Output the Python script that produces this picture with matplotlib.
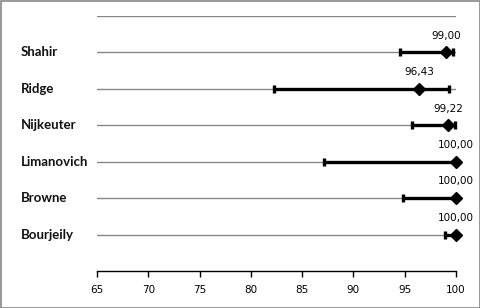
"""Range chart: score (diamond) with min-max span per person."""
import matplotlib
matplotlib.use("Agg")
import matplotlib.pyplot as plt
import matplotlib.transforms as mtransforms
from matplotlib.patches import Rectangle

names = ["Shahir", "Ridge", "Nijkeuter", "Limanovich", "Browne", "Bourjeily"]
scores = [99.00, 96.43, 99.22, 100.00, 100.00, 100.00]
low = [94.5, 82.3, 95.7, 87.1, 94.8, 98.9]
high = [99.75, 99.35, 99.9, 100.0, 100.0, 100.0]
xticks = [65, 70, 75, 80, 85, 90, 95, 100]

W, H, DPI = 481, 308, 100
fig = plt.figure(figsize=(W / DPI, H / DPI), dpi=DPI)
ax = fig.add_axes([97 / W, (H - 271) / H, (456 - 97) / W, (271 - 16) / H])

ypos = list(range(len(names), 0, -1))

for y, s, lo, hi in zip(ypos, scores, low, high):
    bars = ax.errorbar(s, y, xerr=[[s - lo], [hi - s]], fmt="D", color="black",
                       markersize=6.5, elinewidth=2.4, capsize=3.2,
                       capthick=2.4, zorder=3)
    for art in bars.get_children():
        art.set_clip_on(False)
    ax.annotate(f"{s:.2f}".replace(".", ","), (s, y), xytext=(0, 12),
                textcoords="offset points", ha="center", va="center",
                fontsize=7.5, family="DejaVu Sans", color="black")

ax.set_xlim(65, 100)
ax.set_ylim(0, len(names) + 1)
ax.set_xticks(xticks)
ax.tick_params(axis="x", direction="out", length=4, width=1, labelsize=7.5,
               pad=6, color="black")
ax.set_yticks(range(1, len(names) + 2))
ax.tick_params(axis="y", left=False, labelleft=False)
ax.grid(axis="y", color="#878787", linewidth=1)
ax.set_axisbelow(True)
for side in ["left", "right", "top"]:
    ax.spines[side].set_visible(False)
ax.spines["bottom"].set_color("black")
ax.spines["bottom"].set_linewidth(1)

trans = mtransforms.blended_transform_factory(fig.transFigure, ax.transData)
for y, n in zip(ypos, names):
    ax.text(21 / W, y, n, transform=trans, ha="left", va="center",
            fontsize=9.5, fontweight="bold", family="Lato", color="#111111")

fig.patches.append(Rectangle((0.5 / W, 0.5 / H), 1 - 1.5 / W, 1 - 1.5 / H,
                             transform=fig.transFigure, fill=False,
                             edgecolor="#868686", linewidth=1.2))

fig.savefig("out.png", dpi=DPI)
